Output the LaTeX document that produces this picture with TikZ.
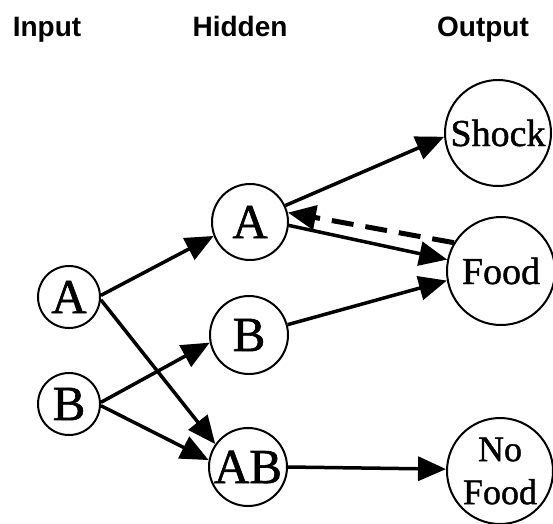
\documentclass[tikz,border=0pt]{standalone}
\usepackage{fontspec}
\setmainfont{Liberation Serif}[FakeBold=1.2]
\newfontfamily\headfont{Liberation Sans}
\usetikzlibrary{arrows.meta}
\begin{document}
\begin{tikzpicture}[x=1pt,y=-1pt,
  unit/.style={circle,draw,line width=2pt,inner sep=0pt,minimum size=#1},
  head/.style={font=\headfont\bfseries\fontsize{28}{28}\selectfont,anchor=base},
  big/.style={font=\fontsize{49}{49}\selectfont},
  conn/.style={line width=3.5pt,-{Triangle[length=28pt,width=24pt]}},
  fb/.style={line width=5pt,dash pattern=on 22pt off 12pt,-{Triangle[length=28pt,width=24pt]}}]
\useasboundingbox (0,0) rectangle (553,523);
\node[head] (hin) at (47,36) {Input};
\node[head] (hhid) at (240,36) {Hidden};
\node[head] (hout) at (483,36) {Output};
% input
\node[unit=62pt,big] (inA) at (69,297) {A};
\node[unit=62pt,big] (inB) at (69,404) {B};
% hidden
\node[unit=76pt,big] (hA) at (250,222) {A};
\node[unit=78pt,big] (hB) at (249,335) {B};
\node[unit=78pt,big] (hAB) at (248,467) {AB};
% output
\node[unit=106pt,font=\fontsize{38}{38}\selectfont] (oS) at (498,133) {Shock};
\node[unit=108pt,font=\fontsize{38}{38}\selectfont] (oF) at (501,271) {Food};
\node[unit=106pt,font=\fontsize{36}{43}\selectfont,align=center] (oN) at (500,471) {No\\Food};
% connectors
\draw[conn] (inA.3) -- (hA.201);
\draw[conn] (inA.-5) -- (hAB.145);
\draw[conn] (inB.3) -- (hB.191);
\draw[conn] (inB.-3) -- (hAB.170);
\draw[conn] (hA.25) -- (oS.184);
\draw[conn] (hA.-5) -- (oF.168);
\draw[conn] (hB.15) -- (oF.190);
\draw[conn] (hAB.0) -- (oN.178);
\draw[fb] (oF.149) -- (hA.14);
\end{tikzpicture}
\end{document}
